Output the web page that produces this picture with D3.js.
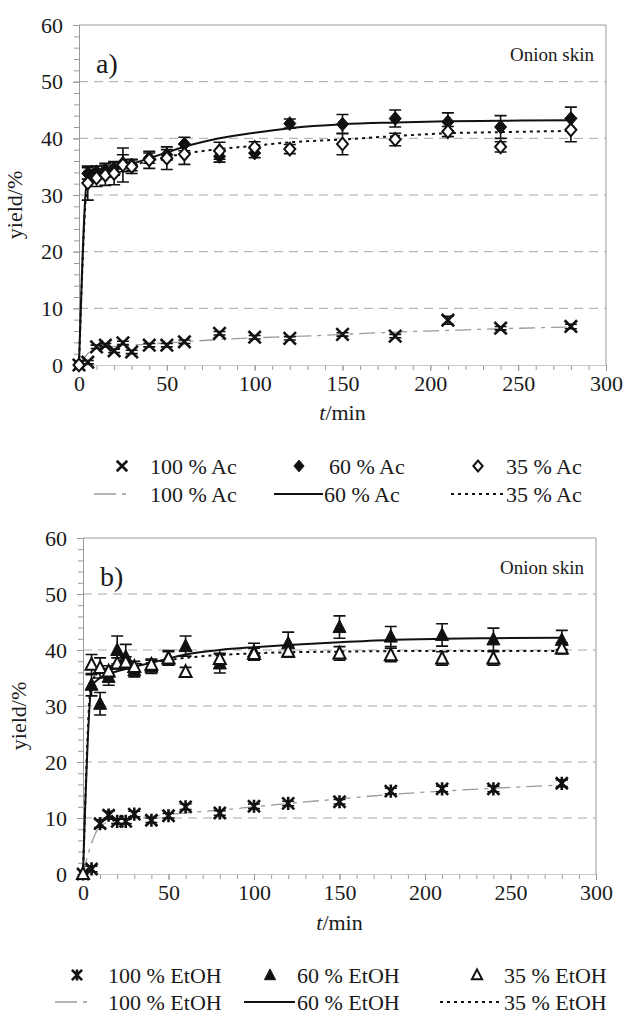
<!DOCTYPE html>
<html>
<head>
<meta charset="utf-8">
<script src="https://cdn.jsdelivr.net/npm/d3@7"></script>
<style>
  body { margin: 0; background: #fff; }
  text { font-family: "Liberation Serif", "Times New Roman", serif; fill: #1a1a1a; }
</style>
</head>
<body>
<script>
// sampling times (min), shared by all series
const times = [0, 5, 10, 15, 20, 25, 30, 40, 50, 60, 80, 100, 120, 150, 180, 210, 240, 280];

// panel a) acetone
const ac100 = [0, 0.5, 3.2, 3.5, 2.5, 3.9, 2.3, 3.5, 3.5, 4.1, 5.6, 4.9, 4.7, 5.4, 5.1, 7.9, 6.5, 6.8];
const ac100Err = [0, 0.3, 0.3, 0.3, 0.3, 0.3, 0.3, 0.3, 0.3, 0.3, 0.3, 0.3, 0.3, 0.3, 0.3, 0.7, 0.3, 0.4];
const ac60 = [0, 33.8, 34.1, 34.4, 34.7, 35.6, 35.3, 36.5, 37.1, 39.0, 36.8, 37.4, 42.6, 42.5, 43.5, 42.9, 42.0, 43.5];
const ac60Err = [0, 1.0, 1.0, 1.2, 1.2, 1.5, 1.0, 0.9, 0.9, 1.2, 1.0, 0.8, 0.8, 1.7, 1.5, 1.6, 2.0, 2.0];
const ac35 = [0, 32.1, 33.0, 33.5, 33.8, 35.3, 35.0, 36.2, 36.5, 37.2, 37.8, 38.4, 38.1, 39.0, 39.8, 41.2, 38.5, 41.5];
const ac35Err = [0, 3.0, 1.5, 1.8, 2.0, 3.0, 1.2, 1.5, 2.0, 1.8, 1.5, 1.0, 0.8, 1.9, 1.1, 0.9, 0.9, 2.1];

// fitted curves
const fitT = [0, 5, 10, 20, 30, 40, 50, 60, 80, 100, 120, 150, 180, 210, 240, 280];
const ac100Fit = [0, 2.0, 3.0, 3.3, 3.5, 3.7, 3.9, 4.1, 4.5, 4.8, 5.0, 5.4, 5.8, 6.1, 6.4, 6.7];
const ac60Fit = [0, 33.5, 34.0, 34.8, 35.5, 36.5, 37.5, 38.5, 40.0, 41.0, 41.8, 42.5, 42.8, 43.0, 43.1, 43.2];
const ac35Fit = [0, 32.0, 33.0, 34.3, 35.2, 36.0, 36.7, 37.3, 38.1, 38.7, 39.3, 39.8, 40.4, 40.9, 41.1, 41.3];

// panel b) ethanol
const et100 = [0, 0.9, 9.0, 10.5, 9.4, 9.4, 10.7, 9.6, 10.4, 12.0, 10.9, 12.1, 12.6, 12.9, 14.8, 15.2, 15.2, 16.2];
const et100Err = [0, 0.5, 0.7, 0.7, 0.4, 0.4, 0.5, 0.4, 0.4, 0.5, 0.4, 0.4, 0.4, 0.4, 0.5, 0.5, 0.5, 0.6];
const et60 = [0, 33.8, 30.4, 35.2, 40.0, 38.8, 36.4, 37.0, 38.6, 40.7, 37.6, 39.7, 41.2, 44.1, 42.4, 42.7, 41.9, 41.8];
const et60Err = [0, 2.0, 2.0, 1.5, 2.5, 2.2, 1.2, 1.2, 1.3, 1.8, 1.7, 1.5, 2.0, 2.0, 1.8, 2.0, 2.0, 1.7];
const et35 = [0, 37.4, 36.8, 36.2, 37.6, 37.8, 37.0, 37.4, 38.5, 36.1, 38.4, 39.3, 39.7, 39.4, 39.1, 38.5, 38.5, 40.3];
const et35Err = [0, 1.8, 1.8, 1.0, 1.0, 1.0, 1.0, 1.0, 1.2, 0.8, 1.0, 1.0, 1.0, 1.2, 1.2, 1.2, 1.2, 1.0];

const et100Fit = [0, 5.5, 8.5, 9.7, 10.0, 10.3, 10.6, 10.9, 11.4, 12.0, 12.6, 13.4, 14.2, 14.8, 15.3, 15.9];
const et60Fit = [0, 33.5, 35.0, 36.2, 37.0, 37.7, 38.5, 39.2, 40.0, 40.5, 40.9, 41.4, 41.8, 42.0, 42.1, 42.2];
const et35Fit = [0, 34.5, 35.8, 36.8, 37.3, 37.8, 38.2, 38.6, 39.1, 39.4, 39.6, 39.7, 39.8, 39.8, 39.8, 39.8];

const xTicks = [0, 50, 100, 150, 200, 250, 300];
const yTicks = [0, 10, 20, 30, 40, 50, 60];
const gridTicks = [10, 20, 30, 40, 50];

const W = 626, H = 1019;
const GREY = "#9a9a9a";

const svg = d3.select("body").append("svg").attr("width", W).attr("height", H);

// marker path generators, centred on 0,0
const markers = {
  cross: (s) => `M${-s},${-s}L${s},${s}M${-s},${s}L${s},${-s}`,
  diamond: (s) => `M0,${-s * 1.15}L${s},0L0,${s * 1.15}L${-s},0Z`,
  star: (s) => `M${-s},${-s}L${s},${s}M${-s},${s}L${s},${-s}M0,${-s * 1.1}L0,${s * 1.1}`,
  triangle: (s) => `M0,${-s * 1.1}L${s},${s * 0.85}L${-s},${s * 0.85}Z`
};

function drawMarker(g, kind, filled, x, y, s) {
  const p = g.append("path").attr("transform", `translate(${x},${y})`).attr("d", markers[kind](s));
  if (kind === "cross" || kind === "star") {
    p.attr("fill", "none").attr("stroke", "#111").attr("stroke-width", 2.6);
  } else if (filled) {
    p.attr("fill", "#111").attr("stroke", "#111").attr("stroke-width", 1);
  } else {
    p.attr("fill", "#fff").attr("stroke", "#111").attr("stroke-width", 2);
  }
}

const lineStyles = {
  grey: { stroke: GREY, width: 1.3, dash: "16,6,4,6" },
  solid: { stroke: "#111", width: 2, dash: null },
  dotted: { stroke: "#111", width: 2, dash: "3,4" }
};

function drawPanel(p) {
  const x = d3.scaleLinear().domain([0, 300]).range([p.left, p.right]);
  const y = d3.scaleLinear().domain([0, 60]).range([p.bottom, p.top]);
  const g = svg.append("g");

  // dashed horizontal grid
  g.selectAll(".grid")
    .data(gridTicks)
    .join("line")
    .attr("x1", p.left).attr("x2", p.right)
    .attr("y1", (d) => y(d)).attr("y2", (d) => y(d))
    .attr("stroke", "#a8a8a8").attr("stroke-width", 1)
    .attr("stroke-dasharray", "9,6");

  // frame: top and right edges
  g.append("path")
    .attr("d", `M${p.left},${p.top}H${p.right}V${p.bottom}`)
    .attr("fill", "none").attr("stroke", GREY).attr("stroke-width", 1);

  // y axis, minor then major
  const yMinor = g.append("g").attr("transform", `translate(${p.left},0)`)
    .call(d3.axisLeft(y).ticks(30).tickSize(5).tickFormat(""));
  const yMajor = g.append("g").attr("transform", `translate(${p.left},0)`)
    .call(d3.axisLeft(y).tickValues(yTicks).tickSize(6).tickPadding(10));
  [yMinor, yMajor].forEach((a) => {
    a.select(".domain").attr("stroke", GREY);
    a.selectAll(".tick line").attr("stroke", GREY);
  });
  yMajor.selectAll(".tick text").attr("font-size", 22).attr("fill", "#1a1a1a")
    .style("font-family", "'Liberation Serif', serif");

  // x axis
  const xMinor = g.append("g").attr("transform", `translate(0,${p.bottom})`)
    .call(d3.axisBottom(x).ticks(30).tickSize(5).tickFormat(""));
  const xMajor = g.append("g").attr("transform", `translate(0,${p.bottom})`)
    .call(d3.axisBottom(x).tickValues(xTicks).tickSize(6).tickPadding(4));
  [xMinor, xMajor].forEach((a) => {
    a.select(".domain").attr("stroke", "#c8c8c8");
    a.selectAll(".tick line").attr("stroke", GREY);
  });
  xMajor.selectAll(".tick text").attr("font-size", 22).attr("fill", "#1a1a1a")
    .style("font-family", "'Liberation Serif', serif");

  // axis titles
  const xt = g.append("text").attr("x", (p.left + p.right) / 2).attr("y", p.xTitleY)
    .attr("text-anchor", "middle").attr("font-size", 22);
  xt.append("tspan").attr("font-style", "italic").text("t");
  xt.append("tspan").text("/min");

  g.append("text")
    .attr("transform", `translate(${p.left - 57},${(p.top + p.bottom) / 2 + 10}) rotate(-90)`)
    .attr("text-anchor", "middle").attr("font-size", 22).text("yield/%");

  g.append("text").attr("x", p.left + 17).attr("y", p.top + 48).attr("font-size", 28).text(p.label);
  g.append("text").attr("x", p.right - 12).attr("y", p.top + 36)
    .attr("text-anchor", "end").attr("font-size", 19).text("Onion skin");

  // fitted lines
  const line = d3.line().x((d) => x(d[0])).y((d) => y(d[1])).curve(d3.curveMonotoneX);
  p.fits.forEach((f) => {
    const st = lineStyles[f.style];
    g.append("path")
      .attr("d", line(fitT.map((t, i) => [t, f.values[i]])))
      .attr("fill", "none")
      .attr("stroke", st.stroke).attr("stroke-width", st.width)
      .attr("stroke-dasharray", st.dash);
  });

  // error bars and markers
  p.series.forEach((s) => {
    const sg = g.append("g");
    times.forEach((t, i) => {
      const e = s.err[i];
      if (!e) return;
      const cx = x(t), y0 = y(s.values[i] - e), y1 = y(s.values[i] + e);
      sg.append("path")
        .attr("d", `M${cx},${y0}V${y1}M${cx - 6},${y0}H${cx + 6}M${cx - 6},${y1}H${cx + 6}`)
        .attr("fill", "none").attr("stroke", "#111").attr("stroke-width", 1.6);
    });
    times.forEach((t, i) => drawMarker(sg, s.kind, s.filled, x(t), y(s.values[i]), s.size));
  });

  // legend
  const lg = g.append("g");
  p.series.forEach((s, i) => {
    const it = p.legend.markers[i];
    drawMarker(lg, s.kind, s.filled, it.mx, p.legend.row1, s.size * 0.85);
    lg.append("text").attr("x", it.tx).attr("y", p.legend.row1 + 8).attr("font-size", 22).text(s.name);
  });
  p.fits.forEach((f, i) => {
    const it = p.legend.lines[i];
    const st = lineStyles[f.style];
    lg.append("line")
      .attr("x1", it.x1).attr("x2", it.x2).attr("y1", p.legend.row2).attr("y2", p.legend.row2)
      .attr("stroke", st.stroke).attr("stroke-width", st.width)
      .attr("stroke-dasharray", f.style === "grey" ? "22,6,4,10" : st.dash);
    lg.append("text").attr("x", it.tx).attr("y", p.legend.row2 + 8).attr("font-size", 22).text(f.name);
  });
}

drawPanel({
  left: 79, right: 606, top: 25, bottom: 365, label: "a)", xTitleY: 420,
  series: [
    { name: "100 % Ac", values: ac100, err: ac100Err, kind: "cross", filled: false, size: 6.2 },
    { name: "60 % Ac", values: ac60, err: ac60Err, kind: "diamond", filled: true, size: 6 },
    { name: "35 % Ac", values: ac35, err: ac35Err, kind: "diamond", filled: false, size: 5.5 }
  ],
  fits: [
    { name: "100 % Ac", values: ac100Fit, style: "grey" },
    { name: "60 % Ac", values: ac60Fit, style: "solid" },
    { name: "35 % Ac", values: ac35Fit, style: "dotted" }
  ],
  legend: {
    row1: 466, row2: 494,
    markers: [{ mx: 122, tx: 150 }, { mx: 299, tx: 329 }, { mx: 478, tx: 506 }],
    lines: [{ x1: 94, x2: 132, tx: 150 }, { x1: 274, x2: 323, tx: 324 }, { x1: 451, x2: 504, tx: 506 }]
  }
});

drawPanel({
  left: 83, right: 596, top: 538, bottom: 874, label: "b)", xTitleY: 930,
  series: [
    { name: "100 % EtOH", values: et100, err: et100Err, kind: "star", filled: false, size: 6 },
    { name: "60 % EtOH", values: et60, err: et60Err, kind: "triangle", filled: true, size: 6.5 },
    { name: "35 % EtOH", values: et35, err: et35Err, kind: "triangle", filled: false, size: 6 }
  ],
  fits: [
    { name: "100 % EtOH", values: et100Fit, style: "grey" },
    { name: "60 % EtOH", values: et60Fit, style: "solid" },
    { name: "35 % EtOH", values: et35Fit, style: "dotted" }
  ],
  legend: {
    row1: 975, row2: 1002,
    markers: [{ mx: 77, tx: 108 }, { mx: 270, tx: 297 }, { mx: 477, tx: 504 }],
    lines: [{ x1: 55, x2: 96, tx: 108 }, { x1: 244, x2: 295, tx: 297 }, { x1: 440, x2: 502, tx: 504 }]
  }
});
</script>
</body>
</html>
